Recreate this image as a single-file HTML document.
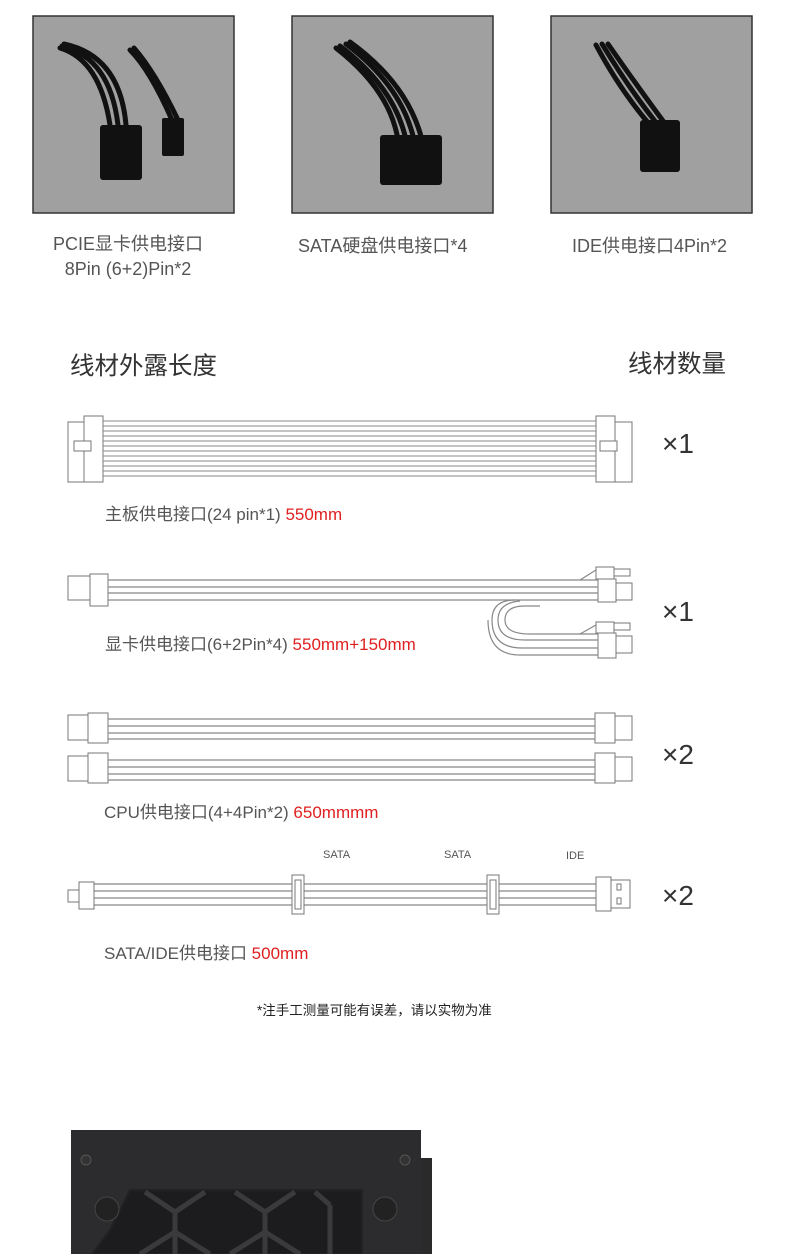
<!DOCTYPE html>
<html><head><meta charset="utf-8"><style>
body{margin:0;width:790px;height:1254px;background:#fff;overflow:hidden;position:relative;font-family:"Liberation Sans","Noto Sans CJK SC",sans-serif}
.t{position:absolute;color:#555;font-size:18px;white-space:nowrap}
.r{color:#e02020}
</style></head><body>
<svg width="790" height="1254" style="position:absolute;left:0;top:0">
<g stroke="#333" stroke-width="1.5" fill="#a0a0a0">
<rect x="33" y="16" width="201" height="197"/>
<rect x="292" y="16" width="201" height="197"/>
<rect x="551" y="16" width="201" height="197"/>
</g>
<g stroke="#111" stroke-width="5" fill="none" stroke-linecap="round">
<path d="M60 48 Q100 60 110 125"/><path d="M62 46 Q110 58 118 125"/><path d="M64 44 Q120 56 126 125"/>
<path d="M130 50 Q150 70 172 120"/><path d="M134 48 Q155 72 178 120"/>
<path d="M336 48 Q390 90 398 140"/><path d="M340 46 Q395 88 406 140"/><path d="M346 44 Q402 86 414 140"/><path d="M350 42 Q408 84 422 140"/>
<path d="M596 45 Q620 90 650 125"/><path d="M602 44 Q630 90 658 125"/><path d="M608 44 Q640 90 666 125"/>
</g>
<g fill="#111">
<rect x="100" y="125" width="42" height="55" rx="3"/>
<rect x="162" y="118" width="22" height="38" rx="2"/>
<rect x="380" y="135" width="62" height="50" rx="3"/>
<rect x="640" y="120" width="40" height="52" rx="3"/>
</g>
<g stroke="#777" stroke-width="1" fill="#fff">
<rect x="68" y="422" width="16" height="60"/>
<rect x="84" y="416" width="19" height="66"/>
<rect x="74" y="441" width="17" height="10"/>
<rect x="615" y="422" width="17" height="60"/>
<rect x="596" y="416" width="19" height="66"/>
<rect x="600" y="441" width="17" height="10"/>
</g>
<g stroke="#888" stroke-width="1">
<line x1="103" y1="421" x2="596" y2="421"/><line x1="103" y1="426" x2="596" y2="426"/><line x1="103" y1="431" x2="596" y2="431"/><line x1="103" y1="436" x2="596" y2="436"/><line x1="103" y1="441" x2="596" y2="441"/><line x1="103" y1="446" x2="596" y2="446"/><line x1="103" y1="451" x2="596" y2="451"/><line x1="103" y1="456" x2="596" y2="456"/><line x1="103" y1="461" x2="596" y2="461"/><line x1="103" y1="466" x2="596" y2="466"/><line x1="103" y1="471" x2="596" y2="471"/><line x1="103" y1="476" x2="596" y2="476"/>
</g>
<g stroke="#777" stroke-width="1" fill="#fff">
<rect x="68" y="576" width="22" height="24"/>
<rect x="90" y="574" width="18" height="32"/>
<rect x="598" y="579" width="18" height="23"/><rect x="616" y="583" width="16" height="17"/>
<rect x="596" y="567" width="18" height="12"/><rect x="614" y="569" width="16" height="7"/>
<rect x="598" y="633" width="18" height="25"/><rect x="616" y="636" width="16" height="17"/>
<rect x="596" y="622" width="18" height="11"/><rect x="614" y="623" width="16" height="7"/>
</g>
<g stroke="#888" stroke-width="1.2" fill="none">
<line x1="108" y1="580" x2="598" y2="580"/><line x1="108" y1="587" x2="598" y2="587"/><line x1="108" y1="593" x2="598" y2="593"/><line x1="108" y1="600" x2="598" y2="600"/>
<path d="M598 634 H530 Q505 634 505 620 Q505 606 525 606 H540"/>
<path d="M598 640 H525 Q498 640 498 620 Q498 603 520 601"/>
<path d="M598 648 H522 Q492 648 492 620 Q492 600 515 600"/>
<path d="M598 655 H520 Q488 655 488 620"/>
<line x1="580" y1="580" x2="596" y2="570"/><line x1="580" y1="634" x2="596" y2="625"/>
</g>
<g stroke="#777" stroke-width="1" fill="#fff">
<rect x="68" y="715" width="22" height="25"/><rect x="88" y="713" width="20" height="30"/>
<rect x="615" y="716" width="17" height="24"/><rect x="595" y="713" width="20" height="30"/>
<rect x="68" y="756" width="22" height="25"/><rect x="88" y="753" width="20" height="30"/>
<rect x="615" y="757" width="17" height="24"/><rect x="595" y="753" width="20" height="30"/>
</g>
<g stroke="#888" stroke-width="1.2">
<line x1="108" y1="719" x2="595" y2="719"/><line x1="108" y1="726" x2="595" y2="726"/><line x1="108" y1="733" x2="595" y2="733"/><line x1="108" y1="739" x2="595" y2="739"/>
<line x1="108" y1="760" x2="595" y2="760"/><line x1="108" y1="767" x2="595" y2="767"/><line x1="108" y1="774" x2="595" y2="774"/><line x1="108" y1="780" x2="595" y2="780"/>
</g>
<g stroke="#888" stroke-width="1.2">
<line x1="94" y1="884" x2="596" y2="884"/><line x1="94" y1="891" x2="596" y2="891"/><line x1="94" y1="898" x2="596" y2="898"/><line x1="94" y1="905" x2="596" y2="905"/>
</g>
<g stroke="#777" stroke-width="1" fill="#fff">
<rect x="68" y="890" width="13" height="12"/><rect x="79" y="882" width="15" height="27"/>
<rect x="292" y="875" width="12" height="39"/><rect x="295" y="880" width="6" height="29"/>
<rect x="487" y="875" width="12" height="39"/><rect x="490" y="880" width="6" height="29"/>
<rect x="596" y="877" width="15" height="34"/><rect x="611" y="880" width="19" height="28"/>
<rect x="617" y="884" width="4" height="6"/><rect x="617" y="898" width="4" height="6"/>
</g>
<rect x="421" y="1158" width="11" height="96" fill="#2a2a2a"/>
<rect x="71" y="1130" width="350" height="124" fill="#2c2c2e"/>
<path d="M130 1190 H362 V1254 H92 L110 1230 Z" fill="#1c1c1e" stroke="#222" stroke-width="2"/>
<g stroke="#3a3a3c" stroke-width="5" fill="none">
<path d="M145 1192 L175 1212 L205 1192 M175 1212 V1254"/>
<path d="M235 1192 L265 1212 L295 1192 M265 1212 V1254"/>
<path d="M315 1192 L330 1205 M330 1205 V1254"/>
<path d="M140 1254 L175 1232 L210 1254"/><path d="M230 1254 L265 1232 L300 1254"/>
</g>
<circle cx="107" cy="1209" r="12" fill="#222" stroke="#444"/><circle cx="385" cy="1209" r="12" fill="#222" stroke="#444"/>
<circle cx="86" cy="1160" r="5" fill="#333" stroke="#555"/><circle cx="405" cy="1160" r="5" fill="#333" stroke="#555"/>
</svg>
<div class="t" style="left:53px;top:232px;text-align:center;line-height:25px">PCIE显卡供电接口<br>8Pin (6+2)Pin*2</div>
<div class="t" style="left:298px;top:232px">SATA硬盘供电接口*4</div>
<div class="t" style="left:572px;top:232px">IDE供电接口4Pin*2</div>
<div class="t" style="left:70px;top:347px;font-size:24.5px;color:#333">线材外露长度</div>
<div class="t" style="left:628px;top:345px;font-size:24.5px;color:#333">线材数量</div>
<div class="t" style="left:662px;top:428px;font-size:28px;color:#333">×1</div>
<div class="t" style="left:662px;top:596px;font-size:28px;color:#333">×1</div>
<div class="t" style="left:662px;top:739px;font-size:28px;color:#333">×2</div>
<div class="t" style="left:662px;top:880px;font-size:28px;color:#333">×2</div>
<div class="t" style="left:105px;top:500px;font-size:17px">主板供电接口(24 pin*1) <span class="r">550mm</span></div>
<div class="t" style="left:105px;top:630px;font-size:17px">显卡供电接口(6+2Pin*4) <span class="r">550mm+150mm</span></div>
<div class="t" style="left:104px;top:798px;font-size:17px">CPU供电接口(4+4Pin*2) <span class="r">650mmmm</span></div>
<div class="t" style="left:104px;top:939px;font-size:17px">SATA/IDE供电接口 <span class="r">500mm</span></div>
<div class="t" style="left:323px;top:849px;font-size:11px">SATA</div>
<div class="t" style="left:444px;top:849px;font-size:11px">SATA</div>
<div class="t" style="left:566px;top:850px;font-size:11px">IDE</div>
<div class="t" style="left:257px;top:999px;font-size:13.5px;color:#222">*注手工测量可能有误差，请以实物为准</div>
</body></html>
